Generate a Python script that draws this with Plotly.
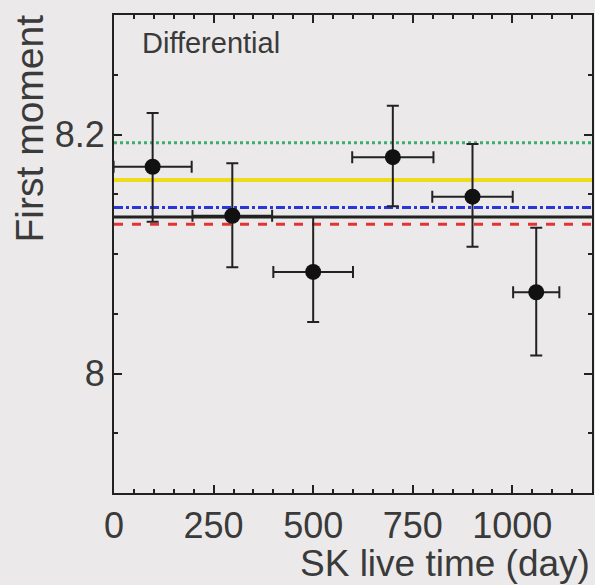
import plotly.graph_objects as go

# Data points (SK live time in days vs first moment)
days = [97, 297, 500, 700, 900, 1060]
days_err = [98, 100, 100, 102, 101, 58]
moment = [8.173, 8.132, 8.085, 8.181, 8.148, 8.068]
moment_err_plus = [0.045, 0.044, 0.046, 0.043, 0.044, 0.054]
moment_err_minus = [0.046, 0.043, 0.042, 0.041, 0.042, 0.053]

# Horizontal reference lines
line_span = [0, 1200]
green_level = 8.193
yellow_level = 8.162
blue_level = 8.139
black_level = 8.131
red_level = 8.125

x_tickvals = [0, 250, 500, 750, 1000]
y_tickvals = [8.0, 8.2]
y_ticktext = ["8", "8.2"]

BG = "#ebe9e9"
TXT = "#3a3a3a"
FONT = "Liberation Sans, Arial, sans-serif"

fig = go.Figure()

def hline(level, color, width, dash):
    fig.add_trace(go.Scatter(x=line_span, y=[level, level], mode="lines",
                             line=dict(color=color, width=width, dash=dash),
                             showlegend=False, hoverinfo="skip"))

hline(green_level, "#3dae6e", 3, "dot")
hline(yellow_level, "#eedc1c", 4, "solid")
hline(blue_level, "#2b36d8", 3, "dashdot")
hline(black_level, "#222222", 3, "solid")
hline(red_level, "#e23434", 3, "dash")

fig.add_trace(go.Scatter(
    x=days, y=moment, mode="markers",
    marker=dict(color="#111111", size=16),
    error_x=dict(type="data", array=days_err, color="#222222", thickness=2, width=6),
    error_y=dict(type="data", array=moment_err_plus, arrayminus=moment_err_minus,
                 color="#222222", thickness=2, width=6),
    showlegend=False))

axis_common = dict(showline=True, linecolor="#222222", linewidth=2, mirror="ticks",
                   ticks="inside", tickcolor="#222222", ticklen=8, tickwidth=1.5,
                   showgrid=False, zeroline=False,
                   tickfont=dict(family=FONT, size=36, color=TXT))

fig.update_xaxes(range=[0, 1200], tickmode="array", tickvals=x_tickvals,
                 minor=dict(tickmode="linear", tick0=0, dtick=50, ticks="inside",
                            ticklen=4, tickcolor="#222222"),
                 **axis_common)
fig.update_yaxes(range=[7.9, 8.3], tickmode="array", tickvals=y_tickvals, ticktext=y_ticktext,
                 minor=dict(tickmode="linear", tick0=7.9, dtick=0.05, ticks="inside",
                            ticklen=4, tickcolor="#222222"),
                 **axis_common)

fig.add_annotation(text="Differential", xref="paper", yref="paper", x=0.055, y=0.98,
                   xanchor="left", yanchor="top", showarrow=False,
                   font=dict(family=FONT, size=29, color=TXT))
fig.add_annotation(text="SK live time (day)", xref="paper", yref="paper", x=1.0, y=-0.1,
                   xanchor="right", yanchor="top", showarrow=False,
                   font=dict(family=FONT, size=37, color=TXT))
fig.add_annotation(text="First moment", xref="paper", yref="paper", x=-0.176, y=1.005,
                   xanchor="center", yanchor="top", textangle=-90, showarrow=False,
                   font=dict(family=FONT, size=39, color=TXT))

fig.update_layout(width=595, height=585, margin=dict(l=114, r=1, t=15, b=92),
                  paper_bgcolor=BG, plot_bgcolor=BG, showlegend=False)

fig.write_html("out.html", config={"displayModeBar": False},
               post_script="document.body.style.margin='0';"
                           "document.body.style.overflow='hidden';"
                           "document.body.style.background='#ebe9e9';")
